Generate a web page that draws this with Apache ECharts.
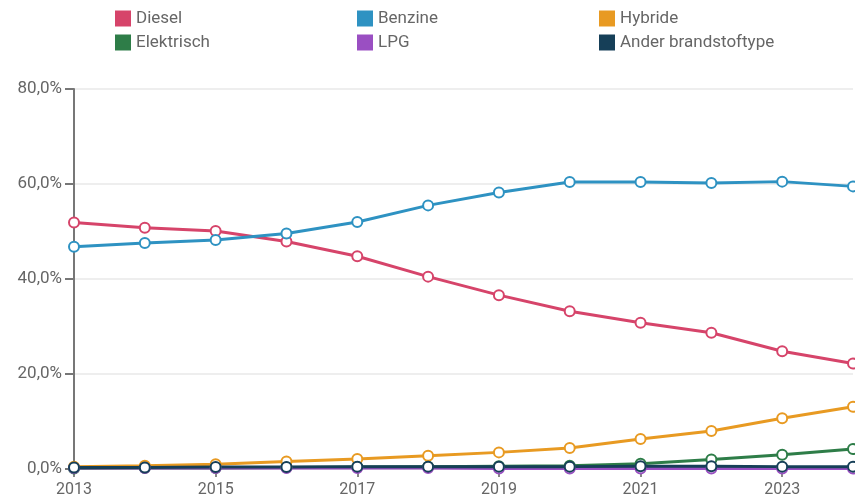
<!DOCTYPE html>
<html>
<head>
<meta charset="utf-8">
<script src="https://cdn.jsdelivr.net/npm/echarts@6/dist/echarts.min.js"></script>
<style>
  html, body { margin: 0; padding: 0; background: #fff; }
  #chart { width: 855px; height: 499px; }
</style>
</head>
<body>
<div id="chart"></div>
<script>
const years = ['2013', '2014', '2015', '2016', '2017', '2018', '2019', '2020', '2021', '2022', '2023', '2024']
const diesel = [51.9, 50.8, 50.1, 47.9, 44.8, 40.5, 36.6, 33.2, 30.8, 28.7, 24.8, 22.2]
const benzine = [46.8, 47.6, 48.2, 49.6, 52.0, 55.5, 58.2, 60.4, 60.4, 60.2, 60.5, 59.5]
const hybride = [0.5, 0.7, 1.0, 1.6, 2.1, 2.8, 3.5, 4.4, 6.3, 8.0, 10.7, 13.1]
const elektrisch = [0.1, 0.2, 0.2, 0.3, 0.4, 0.5, 0.6, 0.7, 1.1, 2.0, 3.0, 4.2]
const lpg = [0.2, 0.2, 0.2, 0.2, 0.2, 0.2, 0.1, 0.1, 0.1, 0.1, 0.1, 0.1]
const ander = [0.3, 0.3, 0.4, 0.4, 0.5, 0.5, 0.5, 0.5, 0.6, 0.6, 0.5, 0.5]

const names = ['Diesel', 'Benzine', 'Hybride', 'Elektrisch', 'LPG', 'Ander brandstoftype']
const colors = ['#d6446a', '#2e92c2', '#e89a22', '#2e7d48', '#9a4fc2', '#163f58']
const values = [diesel, benzine, hybride, elektrisch, lpg, ander]

var chart = echarts.init(document.getElementById('chart'))

function legendCol(left, items) {
  return {
    orient: 'vertical',
    left: left,
    top: 5,
    itemWidth: 16,
    itemHeight: 16,
    itemGap: 7,
    icon: 'rect',
    data: items.map(n => ({
      name: n,
      itemStyle: { color: colors[names.indexOf(n)], borderWidth: 0 }
    })),
    textStyle: {
      color: '#666', fontSize: 17, lineHeight: 16, fontFamily: 'Roboto'
    }
  }
}

const option = {
  animation: false,
  color: colors,
  legend: [
    legendCol(110, ['Diesel', 'Elektrisch']),
    legendCol(352, ['Benzine', 'LPG']),
    legendCol(594, ['Hybride', 'Ander brandstoftype'])
  ],
  grid: { left: 74, right: 2, top: 89, bottom: 30, containLabel: false },
  xAxis: {
    type: 'category',
    data: years,
    boundaryGap: false,
    axisLine: { lineStyle: { color: '#ddd', width: 1 } },
    axisTick: { interval: 1, length: 8, lineStyle: { color: '#888', width: 2 } },
    axisLabel: { interval: 1, color: '#666', fontSize: 16, fontFamily: 'Roboto', margin: 13 }
  },
  yAxis: {
    type: 'value',
    min: 0,
    max: 80,
    interval: 20,
    axisLine: { show: true, lineStyle: { color: '#777', width: 2 } },
    axisTick: { show: true, length: 9, lineStyle: { color: '#777', width: 2 } },
    axisLabel: {
      color: '#666', fontSize: 17, fontFamily: 'Roboto', margin: 12,
      formatter: v => v.toFixed(1).replace('.', ',') + '%'
    },
    splitLine: { lineStyle: { color: '#eee', width: 2 } }
  },
  series: names.map((n, i) => ({
    name: n,
    type: 'line',
    data: values[i],
    symbol: 'circle',
    symbolSize: 10,
    clip: false,
    lineStyle: { width: 3, color: colors[i] },
    itemStyle: { color: '#fff', borderColor: colors[i], borderWidth: 2 }
  }))
}
chart.setOption(option)
</script>
</body>
</html>
